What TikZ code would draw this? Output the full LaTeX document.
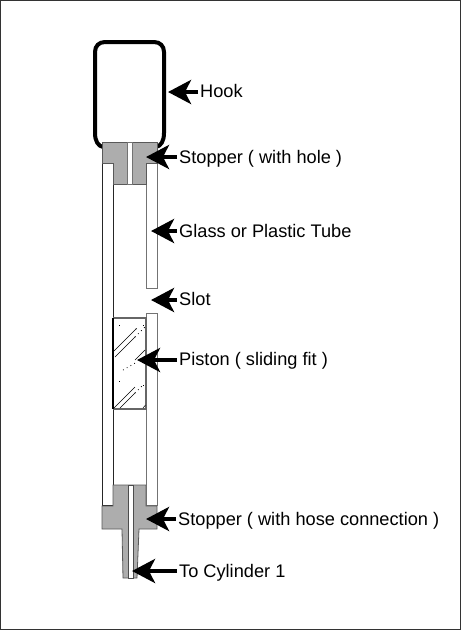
\documentclass[tikz,border=0pt]{standalone}
\usepackage{fontspec}
\setmainfont{Liberation Sans}
\usetikzlibrary{arrows.meta}
\tikzset{
 x=1pt,y=-1pt,
 gl/.style={draw=black!55,line width=1pt,fill=white},
 plug/.style={fill=black!32,draw=black!65,line width=.8pt},
 lab/.style={anchor=west,inner sep=0pt,text height=13pt,text depth=4pt,font=\fontsize{18.2}{20}\selectfont},
 ptr/.style={line width=4pt,-{Stealth[length=23pt,width=24pt,inset=6pt]}},
 hatch/.style={black,line width=.5pt},
 dots/.style={black,line width=.8pt,dash pattern=on .8pt off 3.5pt}
}
\begin{document}
\begin{tikzpicture}
\useasboundingbox (0,0) rectangle (461,630);
\draw[black!80,line width=1.5pt] (0,0) rectangle (461,630);
% tubes
\draw[draw=black!85,line width=.9pt,fill=white] (102,163) rectangle (113,505);
\draw[gl] (146,163) rectangle (157,288);
\draw[gl] (146,313) rectangle (157,505);
% hook
\draw[black,line width=4pt,line join=round] (103,147) .. controls (98,146) and (95,141) .. (95,133) -- (95,52) .. controls (95,46) and (99,42) .. (105,42) -- (154,42) .. controls (160,42) and (164,46) .. (164,52) -- (164,133) .. controls (164,141) and (161,146) .. (156,147);
% piston
\fill[white] (113,318) rectangle (146,409);
\draw[black!60,line width=1.1pt] (113,318) -- (146,318) -- (146,409) -- (113,409);
\draw[black,line width=1.3pt] (113,318) -- (113,409);
\foreach \a/\b/\c/\d in {114/351/136/329,115/357/135/337,135/360/145/350,114/408/135/387,120/408/135/393,143/408/145.5/405}{
 \draw[hatch] (\a,\b) -- (\c,\d);}
\foreach \a/\b/\c/\d in {135/337/145/327,136/329/139/326,123/370/137/362,135/393/143/385,119/325/120/325,143/325/144/325,119/381/120/381,143/385/144/385}{
 \draw[dots] (\a,\b) -- (\c,\d);}
% top stopper
\draw[plug] (102,142) -- (157,142) -- (157,163) -- (146,163) -- (146,184) -- (113,184) -- (113,163) -- (102,163) -- cycle;
\draw[fill=white,draw=black!55,line width=.6pt] (127,142) rectangle (132,184);
% bottom stopper
\draw[plug] (113,485) -- (146,485) -- (146,506) -- (157,506) -- (157,529) -- (139,529) -- (137,578) -- (123,578) -- (122,529) -- (102,529) -- (102,506) -- (113,506) -- cycle;
\draw[fill=white,draw=black!70,line width=.6pt] (128,485) rectangle (133,578);
% labels
\node[lab] (hook) at (200,93) {Hook};
\node[lab] (stop) at (179,159) {Stopper ( with hole )};
\node[lab] (tube) at (179,233) {Glass or Plastic Tube};
\node[lab] (slot) at (179,301) {Slot};
\node[lab] (pist) at (179,361) {Piston ( sliding fit )};
\node[lab] (hose) at (178,521) {Stopper ( with hose connection )};
\node[lab] (cyl) at (179,573) {To Cylinder 1};
% targets
\coordinate (thook) at (168,92);
\coordinate (tstop) at (146,157);
\coordinate (ttube) at (151,231);
\coordinate (tslot) at (151,300);
\coordinate (tpist) at (137,360);
\coordinate (those) at (146,519);
\coordinate (tcyl) at (132,571);
\foreach \l/\t in {hook/thook,stop/tstop,tube/ttube,slot/tslot,pist/tpist,hose/those,cyl/tcyl}{
 \draw[ptr] ([xshift=-2pt]\t -| \l.west) -- (\t);}
\end{tikzpicture}
\end{document}
